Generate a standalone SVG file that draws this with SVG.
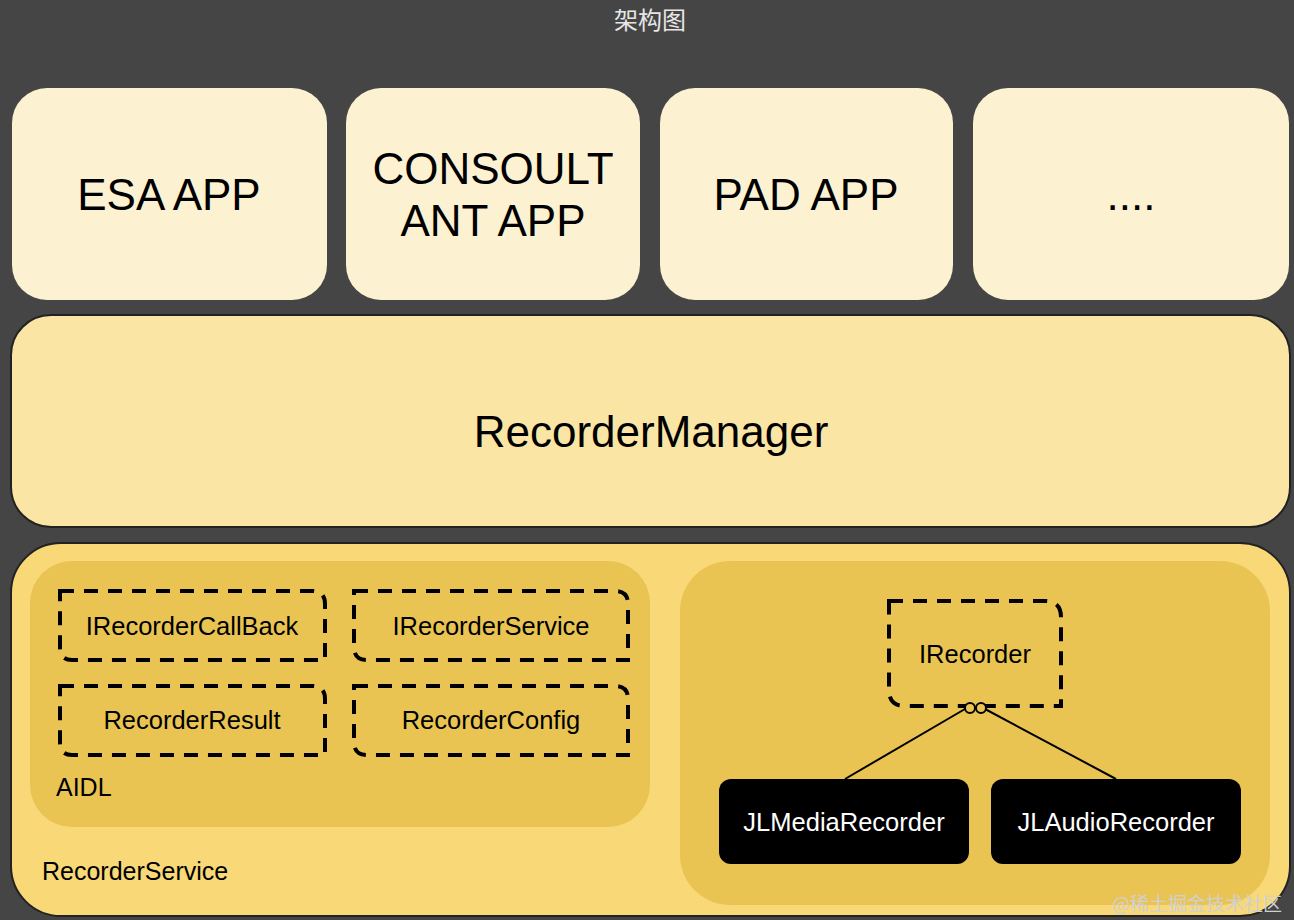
<svg xmlns="http://www.w3.org/2000/svg" width="1294" height="920" viewBox="0 0 1294 920">
<style>
.t{font-family:"Liberation Sans",Arial,sans-serif;fill:#000;text-anchor:middle}
.l{text-anchor:start}
.app{fill:#FCF2D2}
.big{font-size:44px}
.dash{fill:none;stroke:#000;stroke-width:4;stroke-dasharray:14 10}
.mid{font-size:25.5px}
.jl{fill:#000}
.w{fill:#fff}
</style>
<rect width="1294" height="920" fill="#454545"/>
<text x="650" y="29" font-family="'Noto Sans CJK SC',sans-serif" font-size="24" fill="#e6e6e6" text-anchor="middle">架构图</text>
<g id="esa"><rect class="app" x="12" y="88" width="315" height="212" rx="35"/><text class="t big" x="169" y="210">ESA APP</text></g>
<g id="consult"><rect class="app" x="346" y="88" width="294" height="212" rx="35"/><text class="t big" x="493" y="184">CONSOULT</text><text class="t big" x="493" y="236">ANT APP</text></g>
<g id="pad"><rect class="app" x="660" y="88" width="293" height="212" rx="35"/><text class="t big" x="806" y="210">PAD APP</text></g>
<g id="more"><rect class="app" x="973" y="88" width="316" height="212" rx="35"/><text class="t big" x="1131" y="210">....</text></g>
<g id="manager"><rect x="11" y="315" width="1279" height="212" rx="40" fill="#FAE5A5" stroke="#222" stroke-width="2"/><text class="t big" x="651" y="447">RecorderManager</text></g>
<g id="service"><rect x="11" y="543" width="1279" height="373" rx="50" fill="#F9D877" stroke="#222" stroke-width="2"/><text class="t l" x="42" y="880" font-size="25">RecorderService</text></g>
<g id="aidl"><rect x="30" y="561" width="620" height="266" rx="42" fill="#E9C453"/><text class="t l" x="56" y="796" font-size="25">AIDL</text></g>
<g id="impl"><rect x="680" y="561" width="590" height="344" rx="50" fill="#E9C453"/></g>
<g id="callback"><path class="dash" d="M60 591 H312 Q325 591 325 604 V660 H72 Q60 660 60 648 Z"/><text class="t mid" x="192" y="635">IRecorderCallBack</text></g>
<g id="svc"><path class="dash" d="M354 591 H615 Q628 591 628 604 V660 H367 Q354 660 354 647 Z"/><text class="t mid" x="491" y="635">IRecorderService</text></g>
<g id="result"><path class="dash" d="M60 686 H312 Q325 686 325 699 V755 H72 Q60 755 60 743 Z"/><text class="t mid" x="192" y="729">RecorderResult</text></g>
<g id="config"><path class="dash" d="M354 686 H615 Q628 686 628 699 V755 H367 Q354 755 354 742 Z"/><text class="t mid" x="491" y="729">RecorderConfig</text></g>
<g id="irecorder"><path class="dash" d="M889 601 H1045 Q1061 601 1061 617 V706 H905 Q889 706 889 690 Z"/><text class="t mid" x="975" y="663">IRecorder</text></g>
<g id="connectors" fill="none" stroke="#000" stroke-width="2">
<line x1="965" y1="709" x2="845" y2="779"/>
<line x1="985" y1="709" x2="1116" y2="779"/>
<circle cx="970" cy="708" r="5" fill="#E9C453"/>
<circle cx="981" cy="708" r="5" fill="#E9C453"/>
</g>
<g id="media"><rect class="jl" x="719" y="779" width="250" height="85" rx="12"/><text class="t mid w" x="844" y="831">JLMediaRecorder</text></g>
<g id="audio"><rect class="jl" x="991" y="779" width="250" height="85" rx="12"/><text class="t mid w" x="1116" y="831">JLAudioRecorder</text></g>
<text x="1282" y="911" font-family="'Noto Sans CJK SC',sans-serif" font-size="19" fill="#d0d0d0" text-anchor="end">@稀土掘金技术社区</text>
</svg>
